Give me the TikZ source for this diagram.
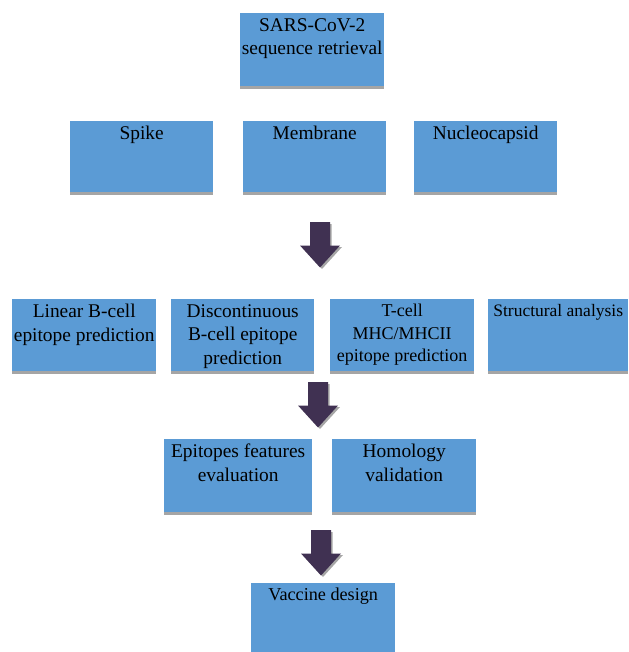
\documentclass[tikz,border=0pt]{standalone}
\usepackage{fontspec}
\setmainfont{Liberation Serif}
\definecolor{boxblue}{HTML}{5B9BD5}
\definecolor{bandgrey}{HTML}{A5A5A5}
\definecolor{arrowpurple}{HTML}{403152}
\definecolor{shadowgrey}{HTML}{A6A6A6}
\tikzset{
  flowbox/.style={fill=boxblue, draw=none, inner sep=0pt, anchor=north west},
  boxtext/.style={anchor=north, align=center, inner sep=5pt, text=black,
    font=\fontsize{19.4}{23.5}\selectfont},
  band/.style={fill=bandgrey},
  pics/blockarrow/.style={code={
    \fill[shadowgrey] (-7.5,2) -- (11.5,2) -- (11.5,25) -- (22,25) -- (2,47) -- (-18,25) -- (-7.5,25) -- cycle;
    \fill[arrowpurple] (-10,0) -- (10,0) -- (10,23.5) -- (20,23.5) -- (0,45.5) -- (-20,23.5) -- (-10,23.5) -- cycle;
  }}
}
\begin{document}
\begin{tikzpicture}[x=1pt,y=-1pt]
\useasboundingbox (0,0) rectangle (628,652);
% row 1
\node[flowbox, minimum width=144pt, minimum height=73pt,
  label={[boxtext]north:SARS-CoV-2\\sequence retrieval}] (sars) at (240,13) {};
% row 2
\node[flowbox, minimum width=143pt, minimum height=71pt,
  label={[boxtext]north:Spike}] (spike) at (70,121) {};
\node[flowbox, minimum width=143pt, minimum height=71pt,
  label={[boxtext]north:Membrane}] (membrane) at (243,121) {};
\node[flowbox, minimum width=143pt, minimum height=71pt,
  label={[boxtext]north:Nucleocapsid}] (nucleo) at (414,121) {};
% row 3
\node[flowbox, minimum width=144pt, minimum height=72pt,
  label={[boxtext]north:Linear B-cell\\epitope prediction}] (linear) at (12,299) {};
\node[flowbox, minimum width=143pt, minimum height=72pt,
  label={[boxtext]north:Discontinuous\\B-cell epitope\\prediction}] (discont) at (171,299) {};
\node[flowbox, minimum width=144pt, minimum height=72pt,
  label={[boxtext, font=\fontsize{18}{22.5}\selectfont]north:T-cell\\MHC/MHCII\\epitope prediction}] (tcell) at (330,299) {};
\node[flowbox, minimum width=140pt, minimum height=72pt,
  label={[boxtext, font=\fontsize{17.5}{22}\selectfont]north:Structural analysis}] (struct) at (488,299) {};
% row 4
\node[flowbox, minimum width=148pt, minimum height=73pt,
  label={[boxtext]north:Epitopes features\\evaluation}] (features) at (164,439) {};
\node[flowbox, minimum width=144pt, minimum height=73pt,
  label={[boxtext]north:Homology\\validation}] (homology) at (332,439) {};
% row 5
\node[flowbox, minimum width=144pt, minimum height=69pt,
  label={[boxtext, font=\fontsize{18.2}{23}\selectfont]north:Vaccine design}] (vaccine) at (251,583) {};
% grey bands
\foreach \b in {sars,spike,membrane,nucleo,linear,discont,tcell,struct,features,homology}
  \fill[band] (\b.south west) rectangle ([yshift=-3pt]\b.south east);
% block arrows
\pic at (320,222) {blockarrow};
\pic at (318,382) {blockarrow};
\pic at (321,530) {blockarrow};
\end{tikzpicture}
\end{document}
